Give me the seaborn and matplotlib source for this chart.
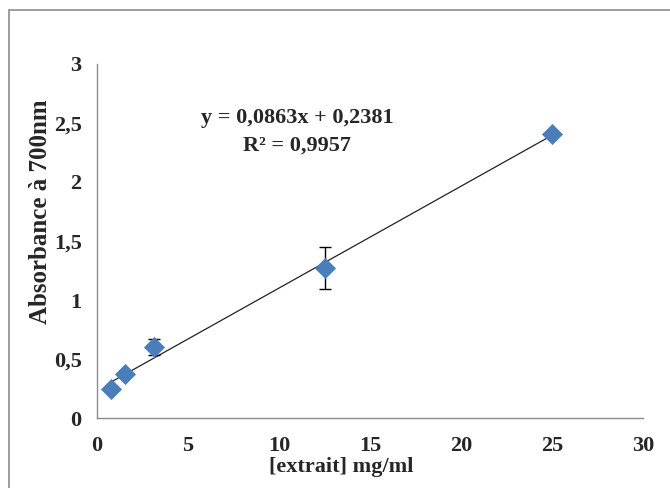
import matplotlib
matplotlib.use("Agg")
import matplotlib.pyplot as plt
import seaborn as sns
import pandas as pd
from matplotlib.patches import Rectangle

# concentration of extract (mg/ml) and absorbance at 700 nm
conc = [0.78, 1.56, 3.125, 12.5, 25]
absorb = [0.25, 0.375, 0.60, 1.27, 2.41]
err = [0.01, 0.02, 0.07, 0.18, 0.01]
# linear trendline as given on the chart
slope = 0.0863
intercept = 0.2381
r2 = 0.9957

df = pd.DataFrame({"conc": conc, "abs": absorb, "err": err})
df["fit"] = slope * df["conc"] + intercept

sns.set_style("white")
plt.rcParams["font.family"] = ["Liberation Serif", "DejaVu Serif"]
plt.rcParams["font.weight"] = "bold"

fig = plt.figure(figsize=(6.7, 4.88), dpi=100)
ax = fig.add_axes([0.1448, 0.1434, 0.8149, 0.7255])

# outer chart border (cut off at right/bottom like the source)
fig.patches.append(Rectangle((9 / 670, -0.05), 1.0, 1.05 - 10 / 488,
                             transform=fig.transFigure, fill=False,
                             edgecolor="#8c8c8c", linewidth=1.2))

sns.lineplot(data=df, x="conc", y="fit", color="#222222", linewidth=0.9, ax=ax)
ax.errorbar(df["conc"], df["abs"], yerr=df["err"], fmt="none",
            ecolor="black", elinewidth=1, capsize=4, capthick=1, zorder=3)
sns.scatterplot(data=df, x="conc", y="abs", marker="D", s=105,
                color="#4a7ebb", edgecolor="#4a7ebb", linewidth=0.5,
                ax=ax, zorder=4)

ax.set_xlim(0, 30)
ax.set_ylim(0, 3)
ax.set_xticks([0, 5, 10, 15, 20, 25, 30])
ax.set_yticks([0, 0.5, 1, 1.5, 2, 2.5, 3])
ax.set_yticklabels(["0", "0,5", "1", "1,5", "2", "2,5", "3"])

for side in ["top", "right"]:
    ax.spines[side].set_visible(False)
for side in ["left", "bottom"]:
    ax.spines[side].set_color("#8c8c8c")
    ax.spines[side].set_linewidth(1)

ax.tick_params(axis="both", direction="out", length=5, width=1,
               color="#8c8c8c", labelsize=16)
ax.tick_params(axis="x", pad=8)
ax.tick_params(axis="y", pad=6)
for lab in ax.get_xticklabels() + ax.get_yticklabels():
    lab.set_fontweight("bold")

ax.set_xlabel("[extrait] mg/ml", fontsize=16, fontweight="bold", va="center")
ax.xaxis.set_label_coords(0.447, -0.138)
ax.set_ylabel("Absorbance à 700nm", fontsize=18, fontweight="bold",
              va="center", ha="center")
ax.yaxis.set_label_coords(-0.104, 0.582)

eq = f"y = {slope:.4f}x + {intercept:.4f}".replace(".", ",")
ax.text(11.0, 2.54, eq, fontsize=16, fontweight="bold", ha="center", va="center")
ax.text(11.0, 2.31, f"R² = {r2:.4f}".replace(".", ","), fontsize=16,
        fontweight="bold", ha="center", va="center")

fig.savefig("out.png", dpi=100)
